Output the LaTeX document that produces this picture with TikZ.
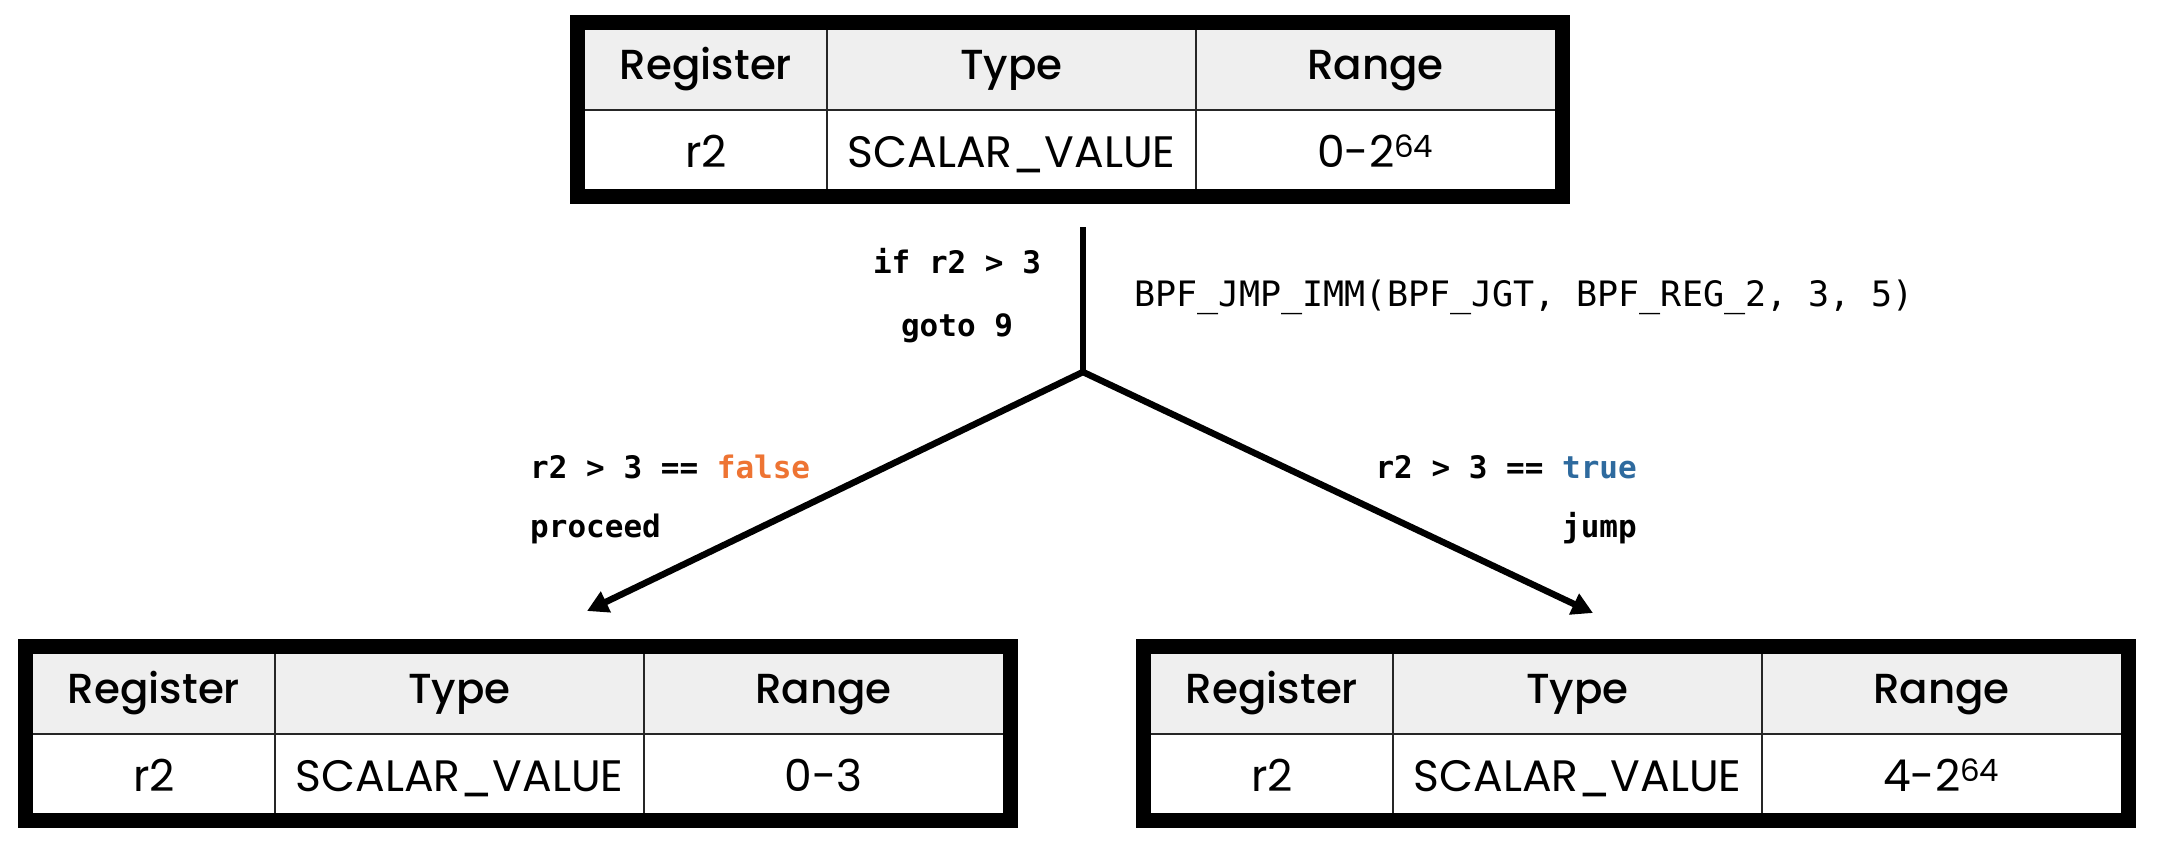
\documentclass[tikz,border=0pt]{standalone}
\usepackage{fontspec}
\setmainfont{Poppins}
\newfontfamily\popmed{Poppins}[UprightFont={* Medium}]
\setmonofont{DejaVu Sans Mono}
\usetikzlibrary{arrows.meta}
\definecolor{hdrfill}{HTML}{EFEFEF}
\definecolor{falsec}{HTML}{EE7433}
\definecolor{truec}{HTML}{2E6A9E}
\tikzset{
  outerbox/.style={draw=black, line width=15pt, minimum width=985pt, minimum height=174pt, inner sep=0pt},
  gridline/.style={draw=black!85, line width=1.8pt},
  hcell/.style={anchor=base, inner sep=0pt, font=\popmed\fontsize{42}{48}\selectfont},
  dcell/.style={anchor=base, inner sep=0pt, font=\fontsize{44}{50}\selectfont},
  codebold/.style={inner sep=0pt, font=\ttfamily\bfseries\fontsize{31}{36}\selectfont},
  codereg/.style={inner sep=0pt, font=\ttfamily\fontsize{35}{40}\selectfont},
  conn/.style={line width=6.5pt, draw=black},
  arr/.style={-{Triangle[length=21pt,width=22pt]}}
}
\newcommand{\regtable}[4]{%
  \begin{scope}[shift={(#2,#3)}]
    \fill[hdrfill] (15,15) rectangle (985,95);
    \draw[gridline] (15,95) -- (985,95);
    \draw[gridline] (257,15) -- (257,174);
    \draw[gridline] (626,15) -- (626,174);
    \node[outerbox] (#1) at (500,94.5) {};
    \node[hcell] (#1-h1) at (136,64) {Register};
    \node[hcell] (#1-h2) at (441.5,64) {Type};
    \node[hcell] (#1-h3) at (805.5,64) {Range};
    \node[dcell] (#1-d1) at (136,152) {r2};
    \node[dcell] (#1-d2) at (441.5,152) {SCALAR\_VALUE};
    \node[dcell] (#1-d3) at (805.5,152) {#4};
  \end{scope}%
}
\begin{document}
\begin{tikzpicture}[x=1pt,y=-1pt]
  \fill[white] (0,0) rectangle (2160,852);
  \useasboundingbox (0,0) rectangle (2160,852);

  \regtable{top}{570}{15}{0-2\textsuperscript{64}}
  \regtable{left}{18}{639}{0-3}
  \regtable{right}{1136}{639}{4-2\textsuperscript{64}}

  \coordinate (vtop) at (1083,227);
  \coordinate (junc) at (1083,372);
  \coordinate (lend) at (587,611);
  \coordinate (rend) at (1593,613);

  \draw[conn] (vtop) -- (junc);
  \draw[conn,arr,line join=miter] (junc) -- (lend);
  \draw[conn,arr,line join=miter] (junc) -- (rend);

  \node[codebold, anchor=base] (c1) at (957,273) {if r2 > 3};
  \node[codebold, anchor=base] (c2) at (957,336) {goto 9};
  \node[codereg, anchor=base west] (bpf) at (1134,306) {BPF\_JMP\_IMM(BPF\_JGT, BPF\_REG\_2, 3, 5)};

  \node[codebold, anchor=base west] (fl1) at (530,478) {r2 > 3 == \textcolor{falsec}{false}};
  \node[codebold, anchor=base west] (fl2) at (530,537) {proceed};
  \node[codebold, anchor=base east] (tr1) at (1637,478) {r2 > 3 == \textcolor{truec}{true}};
  \node[codebold, anchor=base east] (tr2) at (1637,537) {jump};
\end{tikzpicture}
\end{document}
